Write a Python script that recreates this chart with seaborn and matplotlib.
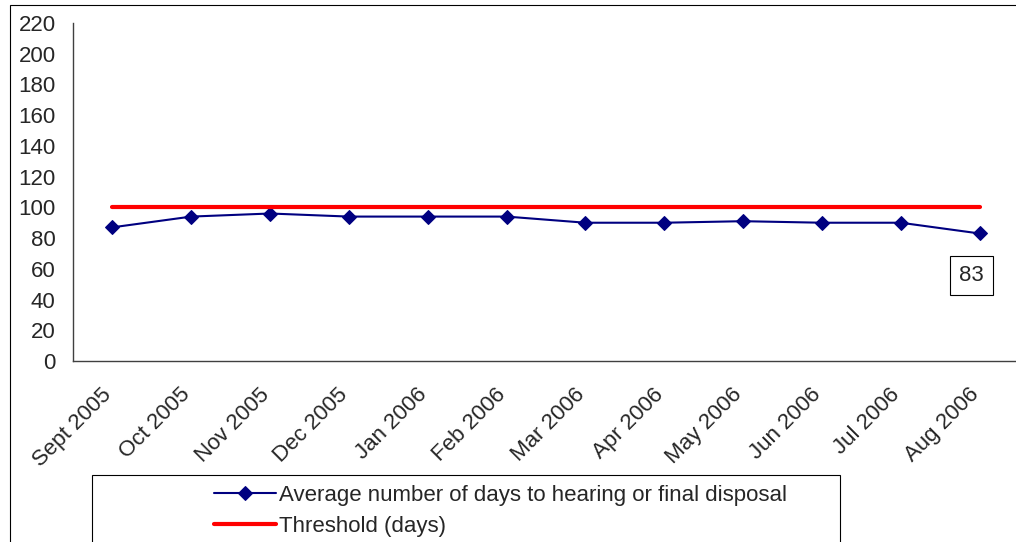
import numpy as np
import pandas as pd
import seaborn as sns
import matplotlib.pyplot as plt
import matplotlib.transforms as mtransforms
from matplotlib.patches import Rectangle

# chart values
months = ['Sept 2005', 'Oct 2005', 'Nov 2005', 'Dec 2005', 'Jan 2006', 'Feb 2006',
          'Mar 2006', 'Apr 2006', 'May 2006', 'Jun 2006', 'Jul 2006', 'Aug 2006']
avg_days = [87, 94, 96, 94, 94, 94, 90, 90, 91, 90, 90, 83]
threshold = [100] * 12

df = pd.DataFrame({'month': months, 'pos': range(len(months)),
                   'avg': avg_days, 'threshold': threshold})

sns.set_style('white')
plt.rcParams['font.family'] = ['Liberation Sans', 'DejaVu Sans']
FS = 16

fig = plt.figure(figsize=(10.16, 5.42), dpi=100)
ax = fig.add_axes([73 / 1016, 1 - 361 / 542, 946 / 1016, 338 / 542])

sns.lineplot(data=df, x='pos', y='avg', ax=ax, color='#000080', linewidth=1.5,
             marker='D', markersize=7.5, markeredgecolor='#000080',
             label='Average number of days to hearing or final disposal')
sns.lineplot(data=df, x='pos', y='threshold', ax=ax, color='#FF0000', linewidth=3,
             label='Threshold (days)')

ax.set_xlim(-0.5, len(months) - 0.5)
ax.set_ylim(0, 220)
ax.set_yticks(np.arange(0, 221, 20))
ax.set_xticks(df['pos'])
ax.set_xticklabels(months, rotation=45, ha='right', va='center', rotation_mode='anchor')
ax.set_xticks(np.arange(-0.5, len(months), 1), minor=True)
ax.tick_params(axis='x', which='major', length=0, pad=22, labelsize=FS)
ax.tick_params(axis='x', which='minor', length=3.5, direction='out', color='#404040')
ax.tick_params(axis='y', length=3.5, direction='out', color='#404040', labelsize=FS, pad=9)
shift = mtransforms.ScaledTranslation(-4 / 100, 0, fig.dpi_scale_trans)
for lbl in ax.get_xticklabels():
    lbl.set_transform(lbl.get_transform() + shift)
ax.set_xlabel('')
ax.set_ylabel('')
for side in ['top', 'right']:
    ax.spines[side].set_visible(False)
for side in ['left', 'bottom']:
    ax.spines[side].set_color('#404040')
    ax.spines[side].set_linewidth(1)

# label on the last point
ax.annotate(str(avg_days[-1]), xy=(11, avg_days[-1]), xytext=(-6, -30),
            textcoords='offset points', ha='center', va='center', fontsize=FS,
            bbox=dict(boxstyle='square,pad=0.4', fc='white', ec='black', lw=0.8))

# legend with its own box
ax.get_legend().remove()
handles, labels = ax.get_legend_handles_labels()
fig.legend(handles, labels, loc='upper left', bbox_to_anchor=(197 / 1016, 1 - 468 / 542),
           frameon=False, fontsize=FS, handlelength=2.8, handletextpad=0.15,
           labelspacing=0.45, borderpad=0.25)
fig.patches.append(Rectangle((92 / 1016, -0.05), 748 / 1016, 0.05 + 67 / 542,
                             transform=fig.transFigure, fill=False, ec='black', lw=0.8))
# outer chart frame
fig.patches.append(Rectangle((10 / 1016, -0.05), 1.1, 1.05 - 5 / 542,
                             transform=fig.transFigure, fill=False, ec='black', lw=0.8))

fig.savefig('out.png', dpi=100)
